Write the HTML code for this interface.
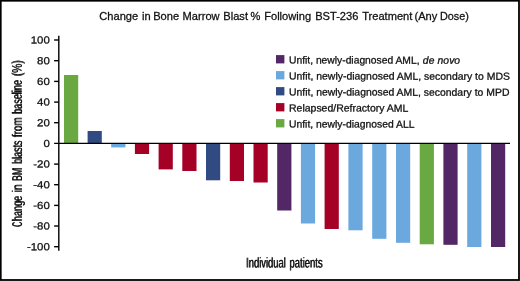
<!DOCTYPE html>
<html><head><meta charset="utf-8">
<style>
html,body{margin:0;padding:0;background:#fff;}
body{width:520px;height:281px;overflow:hidden;}
svg{display:block;will-change:transform;font-family:"Liberation Sans",sans-serif;fill:#111;}
</style></head><body>
<svg width="520" height="281" viewBox="0 0 520 281">
<rect x="0" y="0" width="520" height="281" fill="#fff"/>
<!-- frame -->
<rect x="0.75" y="0.75" width="518.25" height="279.25" fill="none" stroke="#000" stroke-width="1.8"/>
<!-- title -->
<text y="20" font-size="11.1" stroke="#111" stroke-width="0.28"><tspan x="99.3">Change</tspan> <tspan x="142">in</tspan> <tspan x="153.2">Bone</tspan> <tspan x="182.6">Marrow</tspan> <tspan x="223.3">Blast</tspan> <tspan x="250.6">%</tspan> <tspan x="264.2">Following</tspan> <tspan x="315.2">BST-236</tspan> <tspan x="362.2">Treatment</tspan> <tspan x="414.5">(Any</tspan> <tspan x="440" textLength="28.9" lengthAdjust="spacingAndGlyphs">Dose)</tspan></text>
<!-- bars -->
<g>
<rect x="64" y="75" width="14.2" height="68.5" fill="#6aa842"/>
<rect x="87.6" y="131" width="14.2" height="12.5" fill="#2f4b82"/>
<rect x="111.2" y="143.5" width="14.2" height="3.9" fill="#6aa8de"/>
<rect x="134.9" y="143.5" width="14.2" height="10.5" fill="#a50026"/>
<rect x="158.6" y="143.5" width="14.2" height="25.9" fill="#a50026"/>
<rect x="182.3" y="143.5" width="14.2" height="27.5" fill="#a50026"/>
<rect x="206" y="143.5" width="14.2" height="36.8" fill="#2f4b82"/>
<rect x="229.8" y="143.5" width="14.2" height="37.5" fill="#a50026"/>
<rect x="253.5" y="143.5" width="14.2" height="39.0" fill="#a50026"/>
<rect x="277.2" y="143.5" width="14.2" height="67.0" fill="#532766"/>
<rect x="300.9" y="143.5" width="14.2" height="80.0" fill="#6aa8de"/>
<rect x="324.6" y="143.5" width="14.2" height="85.5" fill="#a50026"/>
<rect x="348.4" y="143.5" width="14.2" height="86.8" fill="#6aa8de"/>
<rect x="372.2" y="143.5" width="14.2" height="95.3" fill="#6aa8de"/>
<rect x="396" y="143.5" width="14.2" height="99.3" fill="#6aa8de"/>
<rect x="419.7" y="143.5" width="14.2" height="100.8" fill="#6aa842"/>
<rect x="443.4" y="143.5" width="14.2" height="101.3" fill="#532766"/>
<rect x="467.2" y="143.5" width="14.2" height="103.5" fill="#6aa8de"/>
<rect x="491" y="143.5" width="14.2" height="103.5" fill="#532766"/>
</g>
<!-- axes -->
<g stroke="#000" stroke-width="1.4" fill="none">
<line x1="58.8" y1="35.8" x2="58.8" y2="250.8"/>
<line x1="54.1" y1="143.4" x2="510" y2="143.4"/>
<line x1="54.1" y1="40" x2="58.8" y2="40"/>
<line x1="54.1" y1="60.7" x2="58.8" y2="60.7"/>
<line x1="54.1" y1="81.4" x2="58.8" y2="81.4"/>
<line x1="54.1" y1="102.1" x2="58.8" y2="102.1"/>
<line x1="54.1" y1="122.7" x2="58.8" y2="122.7"/>
<line x1="54.1" y1="164.1" x2="58.8" y2="164.1"/>
<line x1="54.1" y1="184.7" x2="58.8" y2="184.7"/>
<line x1="54.1" y1="205.4" x2="58.8" y2="205.4"/>
<line x1="54.1" y1="226" x2="58.8" y2="226"/>
<line x1="54.1" y1="246.7" x2="58.8" y2="246.7"/>
</g>
<!-- tick labels -->
<g font-size="10.3" text-anchor="end" stroke="#111" stroke-width="0.28">
<text transform="translate(49.8,43.5) rotate(0.1) scale(1.11,1)">100</text>
<text transform="translate(49.8,64.2) rotate(0.1) scale(1.11,1)">80</text>
<text transform="translate(49.8,84.9) rotate(0.1) scale(1.11,1)">60</text>
<text transform="translate(49.8,105.6) rotate(0.1) scale(1.11,1)">40</text>
<text transform="translate(49.8,126.2) rotate(0.1) scale(1.11,1)">20</text>
<text transform="translate(49.8,146.9) rotate(0.1) scale(1.11,1)">0</text>
<text transform="translate(49.8,167.6) rotate(0.1) scale(1.11,1)">-20</text>
<text transform="translate(49.8,188.2) rotate(0.1) scale(1.11,1)">-40</text>
<text transform="translate(49.8,208.9) rotate(0.1) scale(1.11,1)">-60</text>
<text transform="translate(49.8,229.5) rotate(0.1) scale(1.11,1)">-80</text>
<text transform="translate(49.8,250.2) rotate(0.1) scale(1.11,1)">-100</text>
</g>
<!-- y label -->
<text id="yl" transform="translate(22.1,230) rotate(-90.1)" font-size="14.1"><tspan x="2.89" textLength="4.94" lengthAdjust="spacingAndGlyphs">C</tspan><tspan x="8.62" textLength="25.15" lengthAdjust="spacingAndGlyphs">hange</tspan> <tspan x="37.28" textLength="8.03" lengthAdjust="spacingAndGlyphs">in</tspan> <tspan x="48.66" textLength="13.35" lengthAdjust="spacingAndGlyphs">BM</tspan> <tspan x="65.95" textLength="23.15" lengthAdjust="spacingAndGlyphs">blasts</tspan> <tspan x="92.53" textLength="19.59" lengthAdjust="spacingAndGlyphs">from</tspan> <tspan x="115.82" textLength="33.89" lengthAdjust="spacingAndGlyphs">baseline</tspan> <tspan x="153.49" textLength="15.87" lengthAdjust="spacingAndGlyphs">(%)</tspan></text><use href="#yl" y="-0.7"/>
<!-- x label -->
<text id="xl" transform="translate(245.84,267.45) rotate(0.1)" font-size="14.3"><tspan x="0.00" textLength="39.73" lengthAdjust="spacingAndGlyphs">Individual</tspan> <tspan x="43.42" textLength="33.06" lengthAdjust="spacingAndGlyphs">patients</tspan></text><use href="#xl" x="0.55"/>
<!-- legend -->
<g>
<rect x="276" y="55.1" width="8.4" height="8.3" fill="#532766"/>
<rect x="276" y="71.1" width="8.4" height="8.3" fill="#6aa8de"/>
<rect x="276" y="87.1" width="8.4" height="8.3" fill="#2f4b82"/>
<rect x="276" y="103.1" width="8.4" height="8.3" fill="#a50026"/>
<rect x="276" y="119.1" width="8.4" height="8.3" fill="#6aa842"/>
</g>
<g font-size="10.3" stroke="#111" stroke-width="0.28">
<text transform="translate(289,63.45) rotate(0.1)">Unfit, newly-diagnosed AML, <tspan font-style="italic" dx="0.5" letter-spacing="0.1">de novo</tspan></text>
<text transform="translate(289,79.45) rotate(0.1)" textLength="220.9" lengthAdjust="spacingAndGlyphs">Unfit, newly-diagnosed AML, secondary to MDS</text>
<text transform="translate(289,95.45) rotate(0.1)" textLength="220.4" lengthAdjust="spacingAndGlyphs">Unfit, newly-diagnosed AML, secondary to MPD</text>
<text transform="translate(289,111.45) rotate(0.1)" textLength="119.4" lengthAdjust="spacingAndGlyphs">Relapsed/Refractory AML</text>
<text transform="translate(289,127.45) rotate(0.1)" textLength="125.4" lengthAdjust="spacingAndGlyphs">Unfit, newly-diagnosed ALL</text>
</g>
</svg>
</body></html>
